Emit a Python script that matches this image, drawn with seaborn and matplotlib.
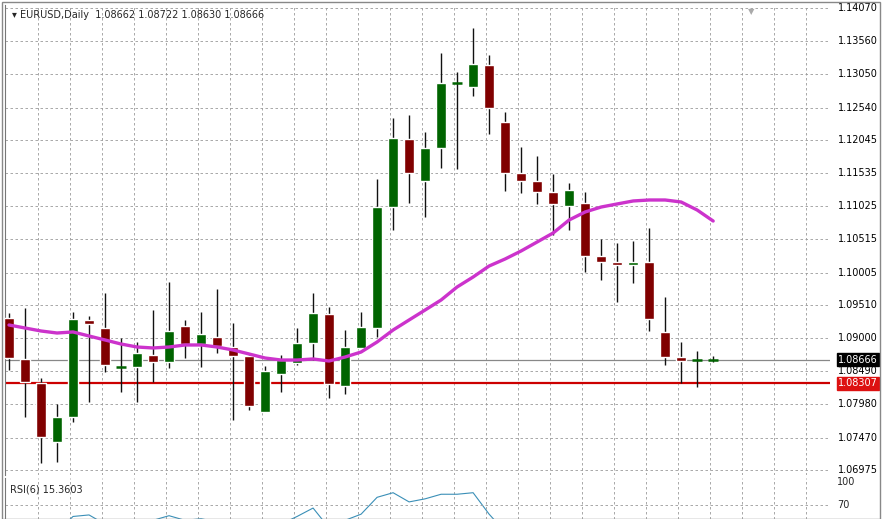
import matplotlib
matplotlib.use("Agg")
import matplotlib.pyplot as plt
import seaborn as sns
import numpy as np
import pandas as pd

sns.set_style("white")
plt.rcParams['font.family'] = ['DejaVu Sans']

# daily EURUSD candles
opens = [1.09309, 1.08679, 1.08310, 1.07404, 1.07788, 1.09278, 1.09155, 1.08556, 1.08556, 1.08740,
         1.08633, 1.09186, 1.08909, 1.09017, 1.08863, 1.08725, 1.07865, 1.08448, 1.08617, 1.08925,
         1.09370, 1.08264, 1.08848, 1.09155, 1.11013, 1.12058, 1.11413, 1.11920, 1.12918, 1.12857,
         1.13195, 1.12319, 1.11536, 1.11413, 1.11244, 1.11029, 1.11075, 1.10261, 1.10169, 1.10123,
         1.10169, 1.09093, 1.08709, 1.08662, 1.08662]
highs = [1.09385, 1.09462, 1.08387, 1.07988, 1.09401, 1.09339, 1.09693, 1.09001, 1.08940, 1.09431,
         1.09861, 1.09278, 1.09401, 1.09754, 1.09232, 1.08740, 1.08571, 1.08740, 1.09155, 1.09693,
         1.09477, 1.09124, 1.09401, 1.11444, 1.12381, 1.12427, 1.12165, 1.13379, 1.13087, 1.13763,
         1.13348, 1.12473, 1.11935, 1.11797, 1.11520, 1.11382, 1.11244, 1.10522, 1.10461, 1.10491,
         1.10691, 1.09631, 1.08940, 1.08802, 1.08722]
lows = [1.08510, 1.07788, 1.07081, 1.07097, 1.07711, 1.08018, 1.08479, 1.08172, 1.08018, 1.08325,
        1.08541, 1.08694, 1.08556, 1.08771, 1.07742, 1.07895, 1.07865, 1.08172, 1.08587, 1.08663,
        1.08080, 1.08141, 1.08848, 1.09017, 1.10660, 1.11075, 1.10860, 1.11613, 1.11597, 1.12718,
        1.12135, 1.11259, 1.11229, 1.11060, 1.10583, 1.10660, 1.10015, 1.09892, 1.09554, 1.09846,
        1.09109, 1.08587, 1.08310, 1.08249, 1.08630]
closes = [1.08694, 1.08325, 1.07481, 1.07788, 1.09293, 1.09216, 1.08587, 1.08571, 1.08771, 1.08633,
          1.09109, 1.08909, 1.09063, 1.08878, 1.08725, 1.07957, 1.08494, 1.08663, 1.08925, 1.09385,
          1.08295, 1.08863, 1.09170, 1.11013, 1.12073, 1.11536, 1.11920, 1.12918, 1.12925, 1.13210,
          1.12534, 1.11536, 1.11413, 1.11244, 1.11060, 1.11275, 1.10261, 1.10169, 1.10123, 1.10169,
          1.09293, 1.08709, 1.08648, 1.08670, 1.08666]
ma = [1.09201, 1.09155, 1.09109, 1.09078, 1.09094, 1.09032, 1.08971, 1.08909, 1.08863, 1.08848,
      1.08863, 1.08894, 1.08894, 1.08863, 1.08817, 1.08756, 1.08694, 1.08663, 1.08663, 1.08679,
      1.08648, 1.08709, 1.08786, 1.08940, 1.09124, 1.09278, 1.09431, 1.09585, 1.09785, 1.09938,
      1.10107, 1.10215, 1.10338, 1.10476, 1.10614, 1.10814, 1.10937, 1.11013, 1.11060, 1.11106,
      1.11121, 1.11121, 1.11090, 1.10967, 1.10798]
rsi = [40, 38, 30, 35, 55, 57, 45, 45, 50, 50, 56, 50, 52, 48, 45, 30, 40, 45, 55, 66,
       40, 50, 58, 80, 86, 74, 78, 84, 84, 86, 58, 35, 32, 30, 28, 32, 22, 21, 20, 22,
       15, 12, 14, 16, 15.36]
price_ticks = [1.14070, 1.13560, 1.13050, 1.12540, 1.12045, 1.11535, 1.11025, 1.10515, 1.10005,
               1.09510, 1.09000, 1.08490, 1.07980, 1.07470, 1.06975]
last_price = 1.08666
level = 1.08307

df = pd.DataFrame({"i": np.arange(len(opens)), "open": opens, "high": highs,
                   "low": lows, "close": closes, "ma": ma, "rsi": rsi})

W, H = 885, 519
fig = plt.figure(figsize=(W / 100, H / 100), dpi=100)
ax = fig.add_axes([5 / W, (H - 475) / H, 825 / W, 470 / H])
ax2 = fig.add_axes([5 / W, 0, 825 / W, 41 / H])

grid_kw = dict(color="#9a9a9a", linestyle=(0, (3, 3)), linewidth=0.6)
xlim = (-0.25, 51.3)
for g in price_ticks:
    ax.axhline(g, zorder=0, **grid_kw)
for gx in np.arange(1.8, 52, 2):
    ax.axvline(gx, zorder=0, **grid_kw)
    ax2.axvline(gx, zorder=0, **grid_kw)

up_c, dn_c = "#006400", "#800000"
for _, r in df.iterrows():
    col = up_c if r.close >= r.open else dn_c
    ax.vlines(r.i, r.low, r.high, color="#111111", linewidth=1, zorder=2)
    lo, hi = min(r.open, r.close), max(r.open, r.close)
    if hi - lo < 0.00015:
        ax.hlines((lo + hi) / 2, r.i - 0.32, r.i + 0.32, color=col, linewidth=1.8, zorder=3)
    else:
        ax.bar(r.i, hi - lo, bottom=lo, width=0.64, color=col, zorder=3)

sns.lineplot(data=df, x="i", y="ma", ax=ax, color="#cc33cc", linewidth=2.4, zorder=4)
ax.axhline(last_price, color="#888888", linewidth=0.9, zorder=1)
ax.axhline(level, color="#cc0000", linewidth=1.6, zorder=1)

ax.set_xlim(*xlim)
ax.set_ylim(1.06897, 1.14116)
ax.set_xticks([])
ax.set_yticks([])
ax.set_xlabel("")
ax.set_ylabel("")
for s in ["left", "right", "top", "bottom"]:
    ax.spines[s].set_visible(False)
ax.spines["left"].set_visible(True)
ax.spines["left"].set_color("#777777")

# price labels on right
for t in price_ticks:
    ax.text(1.0 + 8 / 825, t, f"{t:.5f}", transform=ax.get_yaxis_transform(),
            va="center", ha="left", fontsize=7, color="black")
ax.text(1.0 + 8 / 825, last_price, f"{last_price:.5f}", transform=ax.get_yaxis_transform(),
        va="center", ha="left", fontsize=7, color="white",
        bbox=dict(boxstyle="square,pad=0.15", fc="black", ec="black"))
ax.text(1.0 + 8 / 825, level, f"{level:.5f}", transform=ax.get_yaxis_transform(),
        va="center", ha="left", fontsize=7, color="white",
        bbox=dict(boxstyle="square,pad=0.15", fc="#dd1111", ec="#dd1111"))
ax.text(0.008, 0.99, "\u25be EURUSD,Daily  1.08662 1.08722 1.08630 1.08666",
        transform=ax.transAxes, va="top", ha="left", fontsize=7)
ax.text(0.905, 0.995, "\u25bc", transform=ax.transAxes, va="top", ha="center",
        fontsize=6, color="#aaaaaa")

# RSI pane
sns.lineplot(data=df, x="i", y="rsi", ax=ax2, color="#3a8fb7", linewidth=0.8)
ax2.axhline(70, **grid_kw)
ax2.set_xlim(*xlim)
ax2.set_ylim(51.7, 105.2)
ax2.set_xticks([])
ax2.set_yticks([])
ax2.set_xlabel("")
ax2.set_ylabel("")
for s in ["right", "top", "bottom"]:
    ax2.spines[s].set_visible(False)
ax2.spines["left"].set_color("#777777")
ax2.patch.set_alpha(0)
ax2.text(0.006, 0.85, "RSI(6) 15.3603", transform=ax2.transAxes, va="top", fontsize=7)
ax2.text(1.0 + 7 / 825, 100, "100", transform=ax2.get_yaxis_transform(), va="center", fontsize=7)
ax2.text(1.0 + 7 / 825, 70, "70", transform=ax2.get_yaxis_transform(), va="center", fontsize=7)

# outer frame
fig.patches.append(plt.Rectangle((2 / W, 0), 878 / W, 517 / H, transform=fig.transFigure,
                                 fill=False, ec="#888888", lw=1))
fig.savefig("out.png", dpi=100)
